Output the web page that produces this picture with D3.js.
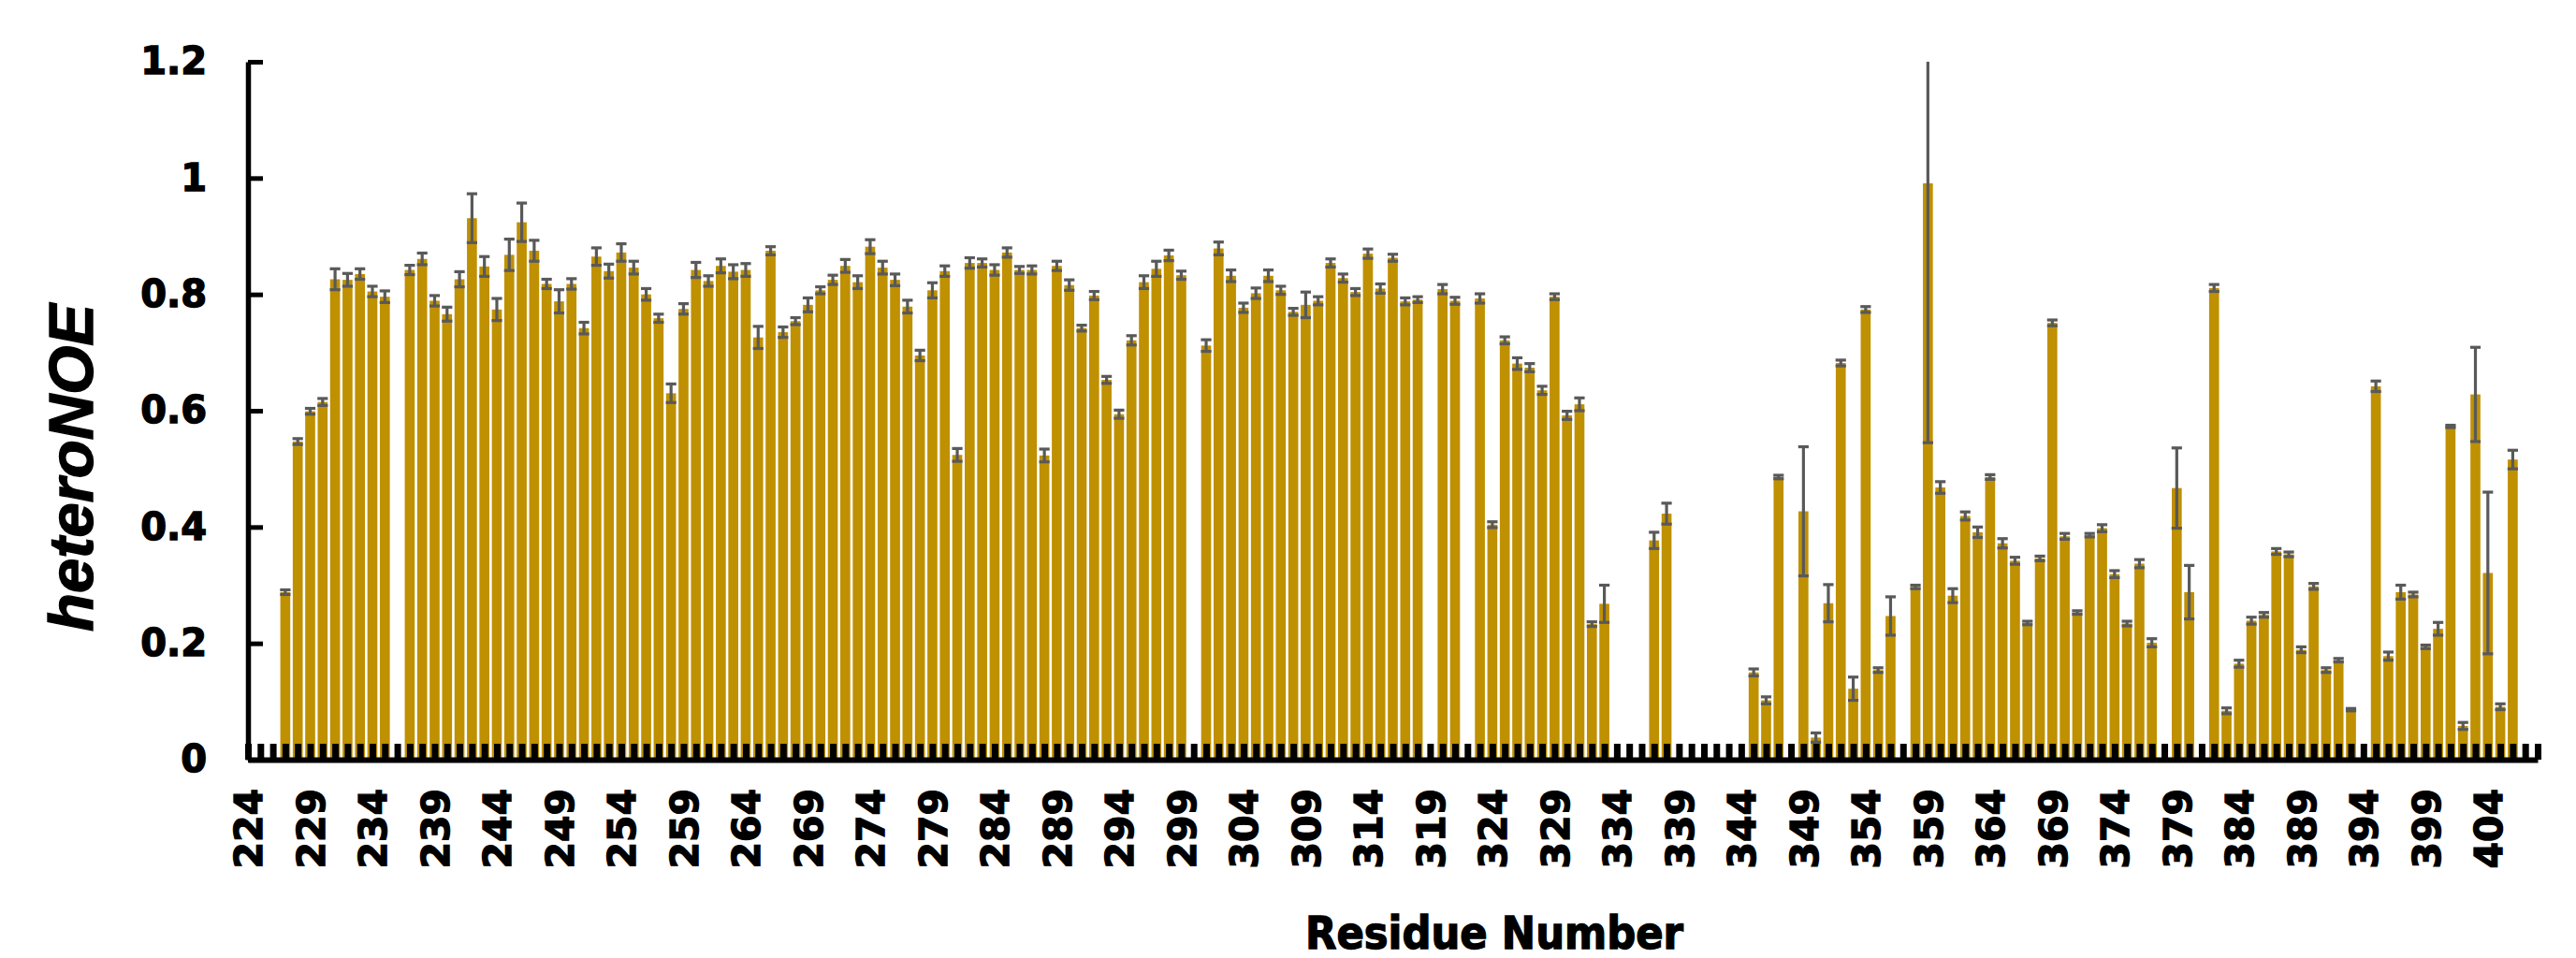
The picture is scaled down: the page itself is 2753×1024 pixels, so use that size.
<!DOCTYPE html>
<html>
<head>
<meta charset="utf-8">
<script src="https://cdn.jsdelivr.net/npm/d3@7"></script>
<style>
  html, body { margin: 0; padding: 0; background: #ffffff; }
  svg { display: block; }
  .heavy { stroke: #000; stroke-width: 1.4px; paint-order: stroke; fill: #000; }
</style>
</head>
<body>
<svg id="chart" width="2753" height="1024"></svg>
<script>
// Residues with a measured heteroNOE value
const residues = [
  227,228,229,230,231,232,233,234,235,237,238,239,240,241,242,243,244,245,246,247,
  248,249,250,251,252,253,254,255,256,257,258,259,260,261,262,263,264,265,266,267,
  268,269,270,271,272,273,274,275,276,277,278,279,280,281,282,283,284,285,286,287,
  288,289,290,291,292,293,294,295,296,297,298,299,301,302,303,304,305,306,307,308,
  309,310,311,312,313,314,315,316,317,318,320,321,323,324,325,326,327,328,329,330,
  331,332,333,337,338,345,346,347,349,350,351,352,353,354,355,356,358,359,360,361,
  362,363,364,365,366,367,368,369,370,371,372,373,374,375,376,377,379,380,382,383,
  384,385,386,387,388,389,390,391,392,393,395,396,397,398,399,400,401,402,403,404,
  405,406
];

// heteroNOE ratio per residue
const heteroNOE = [
  0.288,0.547,0.599,0.615,0.826,0.825,0.835,0.805,0.796,0.842,0.861,0.789,0.766,0.826,0.931,0.848,0.774,0.868,0.924,0.875,
  0.818,0.788,0.818,0.742,0.865,0.840,0.872,0.846,0.800,0.759,0.630,0.775,0.842,0.823,0.849,0.839,0.842,0.726,0.875,0.735,
  0.754,0.782,0.807,0.825,0.849,0.821,0.882,0.846,0.825,0.779,0.695,0.807,0.840,0.524,0.854,0.854,0.842,0.872,0.842,0.842,
  0.523,0.849,0.816,0.742,0.798,0.653,0.594,0.721,0.821,0.844,0.867,0.833,0.712,0.879,0.832,0.777,0.802,0.832,0.807,0.770,
  0.782,0.789,0.854,0.828,0.804,0.870,0.810,0.863,0.788,0.791,0.809,0.789,0.793,0.404,0.721,0.681,0.674,0.635,0.796,0.592,
  0.611,0.233,0.268,0.377,0.423,0.150,0.102,0.486,0.427,0.038,0.269,0.682,0.122,0.774,0.154,0.247,0.297,0.991,0.468,0.282,
  0.419,0.391,0.486,0.372,0.342,0.235,0.346,0.751,0.384,0.253,0.386,0.398,0.319,0.234,0.337,0.201,0.467,0.288,0.811,0.084,
  0.165,0.239,0.249,0.358,0.353,0.189,0.298,0.154,0.171,0.086,0.642,0.178,0.288,0.284,0.194,0.225,0.573,0.058,0.628,0.321,
  0.091,0.516
];

// Standard error of each ratio
const errors = [
  0.004,0.005,0.005,0.006,0.018,0.011,0.009,0.009,0.010,0.008,0.010,0.009,0.012,0.013,0.042,0.017,0.019,0.027,0.033,0.018,
  0.008,0.020,0.009,0.010,0.015,0.012,0.015,0.011,0.010,0.007,0.016,0.009,0.013,0.009,0.012,0.012,0.011,0.019,0.007,0.009,
  0.006,0.012,0.006,0.008,0.011,0.011,0.012,0.011,0.010,0.011,0.009,0.013,0.009,0.011,0.009,0.007,0.009,0.008,0.006,0.007,
  0.011,0.008,0.009,0.005,0.007,0.006,0.007,0.008,0.011,0.013,0.009,0.007,0.010,0.011,0.010,0.008,0.009,0.010,0.007,0.006,
  0.022,0.007,0.007,0.007,0.006,0.008,0.008,0.006,0.006,0.005,0.008,0.006,0.008,0.005,0.006,0.010,0.007,0.007,0.005,0.007,
  0.011,0.004,0.032,0.014,0.018,0.006,0.006,0.003,0.111,0.008,0.032,0.005,0.020,0.005,0.004,0.033,0.003,0.446,0.010,0.012,
  0.007,0.009,0.004,0.008,0.006,0.003,0.004,0.005,0.005,0.003,0.003,0.006,0.006,0.004,0.007,0.007,0.069,0.046,0.006,0.005,
  0.006,0.006,0.004,0.005,0.004,0.005,0.005,0.004,0.003,0.002,0.009,0.007,0.012,0.004,0.003,0.011,0.002,0.006,0.081,0.139,
  0.005,0.016
];

// Axis categories and labels
const firstResidue = 224;
const lastResidue = 408;
const xTickLabels = [224,229,234,239,244,249,254,259,264,269,274,279,284,289,294,299,304,309,314,319,
                     324,329,334,339,344,349,354,359,364,369,374,379,384,389,394,399,404];
const yTickValues = [0, 0.2, 0.4, 0.6, 0.8, 1, 1.2];

const barColor = "#BF9000";
const errColor = "#595959";

const svg = d3.select("#chart");
const plot = { left: 265, right: 2712, top: 66, bottom: 812 };

const categories = d3.range(firstResidue, lastResidue + 1);
const x = d3.scalePoint().domain(categories).range([plot.left, plot.right]).padding(0);
const y = d3.scaleLinear().domain([0, 1.2]).range([plot.bottom, plot.top]);
const barW = x.step() * 0.8;

const data = residues.map((r, i) => ({ r, v: heteroNOE[i], e: errors[i] }));

// Bars
svg.append("g").selectAll("rect")
  .data(data).join("rect")
  .attr("x", d => x(d.r) - barW / 2)
  .attr("y", d => y(d.v))
  .attr("width", barW)
  .attr("height", d => y(0) - y(d.v))
  .attr("fill", barColor);

// Error bars (clipped at the top of the value axis)
const eb = svg.append("g").attr("stroke", errColor).attr("stroke-width", 3.2).attr("fill", "none");
const capW = barW * 1.05;
data.forEach(d => {
  const hi = Math.min(d.v + d.e, 1.2), lo = Math.max(d.v - d.e, 0);
  const cx = x(d.r);
  eb.append("line").attr("x1", cx).attr("x2", cx).attr("y1", y(lo)).attr("y2", y(hi));
  eb.append("line").attr("x1", cx - capW / 2).attr("x2", cx + capW / 2).attr("y1", y(lo)).attr("y2", y(lo));
  if (d.v + d.e <= 1.2) {
    eb.append("line").attr("x1", cx - capW / 2).attr("x2", cx + capW / 2).attr("y1", y(hi)).attr("y2", y(hi));
  }
});

// Category axis: a short inside tick at every residue, labels every fifth residue
const xAxis = svg.append("g")
  .attr("transform", `translate(0,${plot.bottom})`)
  .call(d3.axisBottom(x)
    .tickValues(categories)
    .tickSize(-17)
    .tickSizeOuter(0)
    .tickFormat(d => xTickLabels.includes(d) ? String(d) : ""));
xAxis.select(".domain").attr("stroke", "#000").attr("stroke-width", 6);
xAxis.selectAll(".tick line").attr("stroke", "#000").attr("stroke-width", 7);
xAxis.selectAll(".tick text")
  .attr("class", "heavy")
  .attr("transform", "rotate(-90)")
  .attr("text-anchor", "end")
  .attr("x", -31)
  .attr("y", 0)
  .attr("dy", "0.36em")
  .style("font-family", "'DejaVu Sans', Verdana, sans-serif")
  .style("font-weight", "bold")
  .style("font-size", "41px");

// Value axis with inside ticks
const yAxis = svg.append("g")
  .attr("transform", `translate(${plot.left},0)`)
  .call(d3.axisLeft(y)
    .tickValues(yTickValues)
    .tickSize(-16)
    .tickSizeOuter(0)
    .tickPadding(44)
    .tickFormat(d => String(d)));
yAxis.select(".domain").attr("stroke", "#000").attr("stroke-width", 5.5);
yAxis.selectAll(".tick line").attr("stroke", "#000").attr("stroke-width", 5);
yAxis.selectAll(".tick text")
  .attr("class", "heavy")
  .style("font-family", "'DejaVu Sans', Verdana, sans-serif")
  .style("font-weight", "bold")
  .style("font-size", "40px");

// Axis titles
svg.append("text")
  .attr("class", "heavy")
  .attr("x", 1597).attr("y", 1014)
  .attr("text-anchor", "middle")
  .attr("textLength", 404)
  .attr("lengthAdjust", "spacingAndGlyphs")
  .style("font-family", "'DejaVu Sans', Verdana, sans-serif")
  .style("font-weight", "bold")
  .style("font-size", "48px")
  .text("Residue Number");

svg.append("text")
  .attr("class", "heavy")
  .attr("transform", "translate(99,500) rotate(-90)")
  .attr("text-anchor", "middle")
  .style("font-family", "'Liberation Sans', Arial, sans-serif")
  .style("font-weight", "bold")
  .style("font-style", "italic")
  .style("font-size", "67px")
  .text("heteroNOE");
</script>
</body>
</html>
